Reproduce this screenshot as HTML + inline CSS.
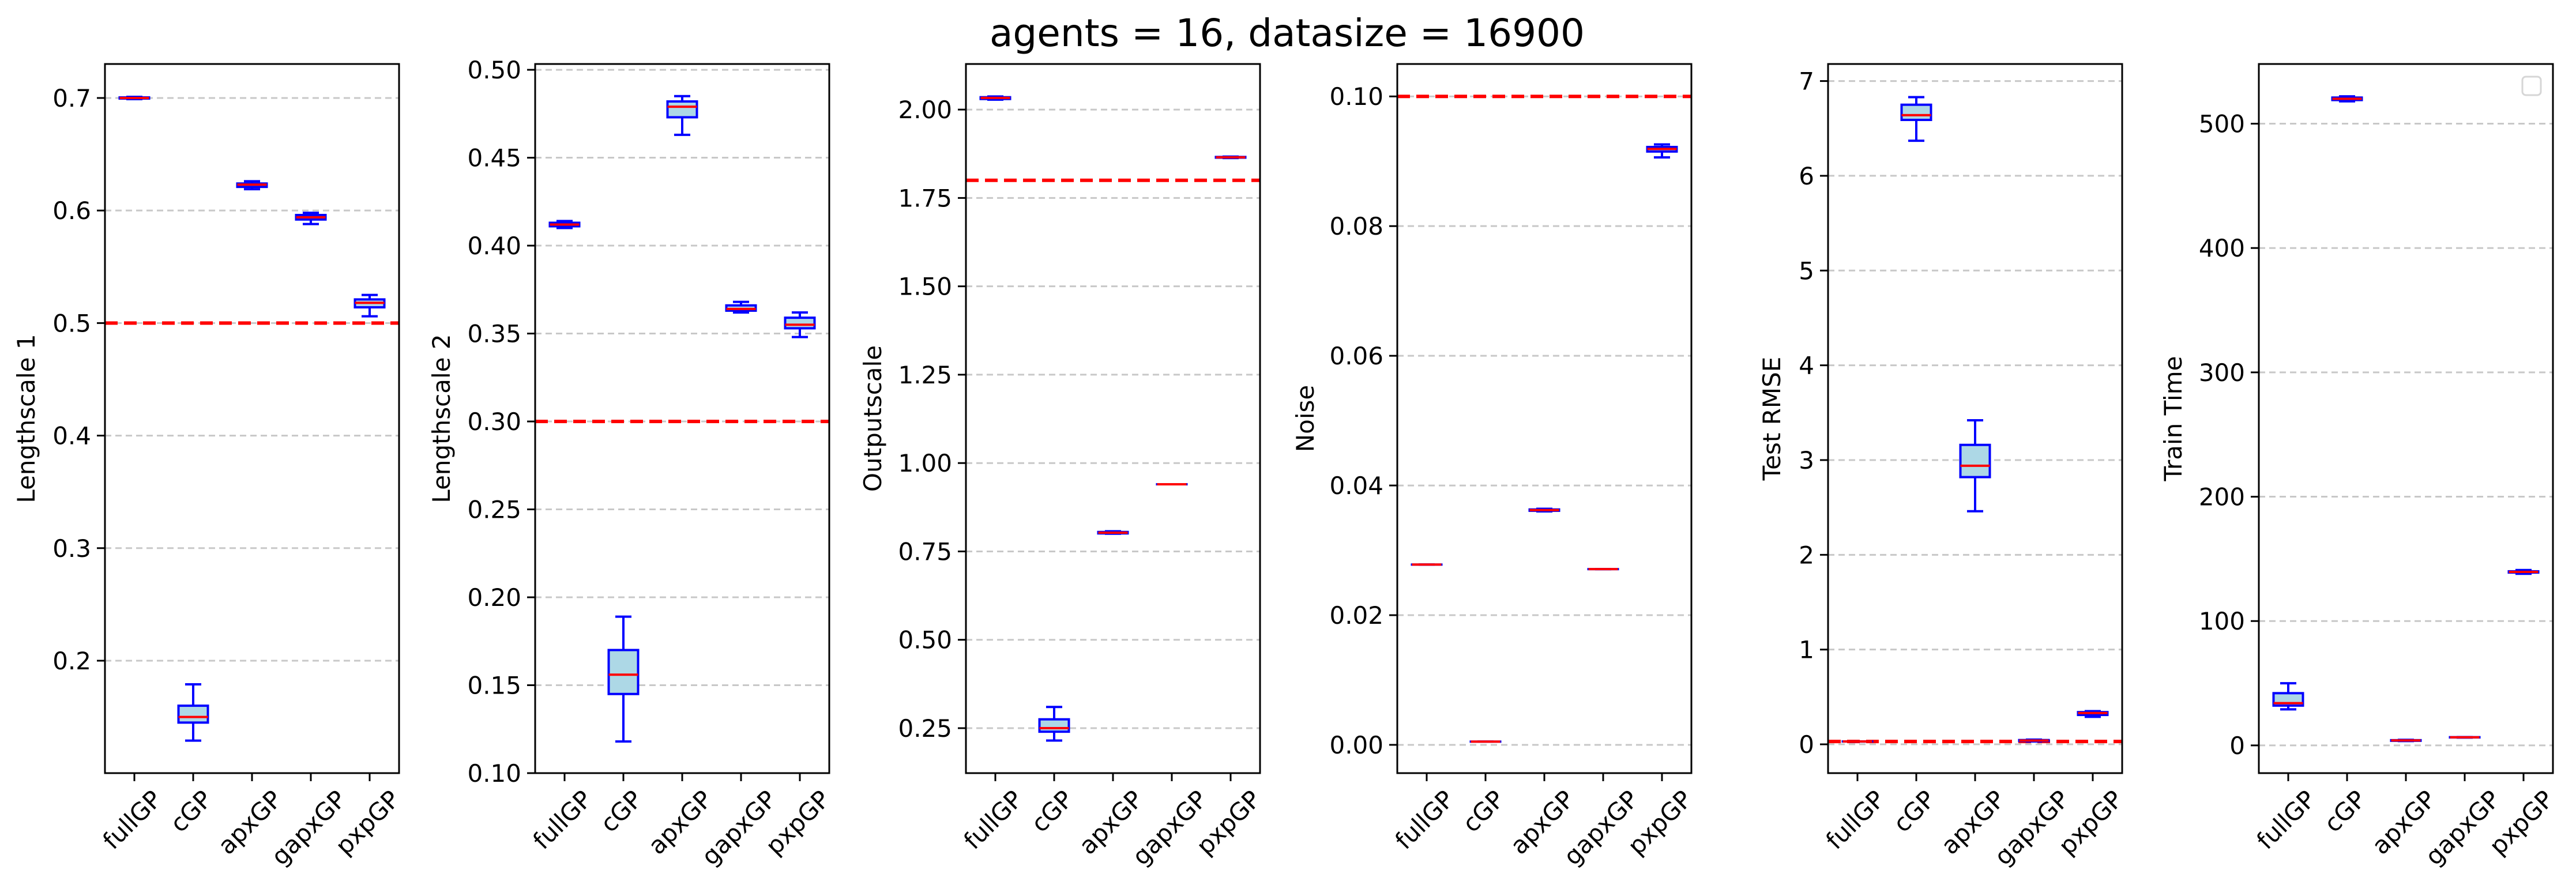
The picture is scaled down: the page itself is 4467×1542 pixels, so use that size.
<!DOCTYPE html>
<html><head><meta charset="utf-8">
<style>
html,body{margin:0;padding:0;background:#fff;}
svg{display:block;font-family:"DejaVu Sans","Liberation Sans",sans-serif;}
</style></head>
<body>
<svg id="fig" width="4467" height="1542" viewBox="0 0 4467 1542" xmlns="http://www.w3.org/2000/svg">
<rect width="4467" height="1542" fill="#fff"/>
<text x="2232" y="80" font-size="66" text-anchor="middle" fill="#000">agents = 16, datasize = 16900</text>
</svg>
<script>
const categories = ["fullGP","cGP","apxGP","gapxGP","pxpGP"];
const panelTitles = ["Lengthscale 1","Lengthscale 2","Outputscale","Noise","Test RMSE","Train Time"];
// each box: [whislo, q1, med, q3, whishi]
const lengthscale1 = [[0.699,0.6995,0.700,0.7005,0.701],[0.129,0.145,0.150,0.160,0.179],[0.619,0.621,0.623,0.624,0.626],[0.588,0.592,0.594,0.596,0.598],[0.506,0.514,0.518,0.521,0.525]];
const lengthscale2 = [[0.410,0.411,0.412,0.413,0.414],[0.118,0.145,0.156,0.170,0.189],[0.463,0.473,0.479,0.482,0.485],[0.362,0.363,0.364,0.366,0.368],[0.348,0.353,0.355,0.359,0.362]];
const outputscale = [[2.028,2.030,2.033,2.035,2.037],[0.215,0.240,0.250,0.275,0.310],[0.800,0.801,0.803,0.805,0.807],[0.940,0.940,0.940,0.940,0.940],[1.863,1.864,1.865,1.866,1.867]];
const noise = [[0.0278,0.0278,0.0278,0.0278,0.0278],[0.0005,0.0005,0.0005,0.0005,0.0005],[0.0360,0.0361,0.0362,0.0363,0.0364],[0.0271,0.0271,0.0271,0.0271,0.0271],[0.0906,0.0915,0.0919,0.0922,0.0926]];
const testRmse = [[0.030,0.030,0.030,0.030,0.030],[6.37,6.59,6.64,6.75,6.83],[2.46,2.82,2.94,3.16,3.42],[0.030,0.035,0.040,0.045,0.050],[0.29,0.31,0.33,0.34,0.35]];
const trainTime = [[29,32,34,42,50],[518,519,520,521,522],[3.5,3.7,4,4.2,4.5],[6.3,6.4,6.5,6.6,6.7],[138,139,139.5,140,141]];
const refValues = [0.5,0.3,1.8,0.1,0.03,null];
const yTicks1 = [0.2,0.3,0.4,0.5,0.6,0.7];
const yTickLabels1 = ["0.2","0.3","0.4","0.5","0.6","0.7"];
const yTicks2 = [0.10,0.15,0.20,0.25,0.30,0.35,0.40,0.45,0.50];
const yTickLabels2 = ["0.10","0.15","0.20","0.25","0.30","0.35","0.40","0.45","0.50"];
const yTicks3 = [0.25,0.5,0.75,1.0,1.25,1.5,1.75,2.0];
const yTickLabels3 = ["0.25","0.50","0.75","1.00","1.25","1.50","1.75","2.00"];
const yTicks4 = [0,0.02,0.04,0.06,0.08,0.10];
const yTickLabels4 = ["0.00","0.02","0.04","0.06","0.08","0.10"];
const yTicks5 = [0,1,2,3,4,5,6,7];
const yTickLabels5 = ["0","1","2","3","4","5","6","7"];
const yTicks6 = [0,100,200,300,400,500];
const yTickLabels6 = ["0","100","200","300","400","500"];
const yRanges = [[0.1001,0.7302],[0.1,0.5033],[0.1228,2.129],[-0.00436,0.105],[-0.304,7.18],[-22.3,548]];

const allData=[lengthscale1,lengthscale2,outputscale,noise,testRmse,trainTime];
const allTicks=[yTicks1,yTicks2,yTicks3,yTicks4,yTicks5,yTicks6];
const allTickLabels=[yTickLabels1,yTickLabels2,yTickLabels3,yTickLabels4,yTickLabels5,yTickLabels6];
const lefts=[182,928,1675,2423,3170,3917];
const labelX=[46,766,1514,2264,3073,3769];
const W=510, TOP=111, BOT=1341;
const NS="http://www.w3.org/2000/svg";
const svg=document.getElementById('fig');
function mk(tag,attrs,parent){const e=document.createElementNS(NS,tag);for(const k in attrs)e.setAttribute(k,attrs[k]);(parent||svg).appendChild(e);return e;}

for(let p=0;p<6;p++){
  const L=lefts[p], R=L+W;
  const [y0,y1]=yRanges[p];
  const ys=v=>BOT-(v-y0)/(y1-y0)*(BOT-TOP);
  const xs=i=>L+(i+0.5)*W/categories.length;
  const g=mk('g',{});
  
  
  allTicks[p].forEach((t,i)=>{
    const y=ys(t);
    const gl=mk('line',{x1:L,x2:R,y1:y,y2:y,stroke:'#c8c8c8','stroke-width':3,'stroke-dasharray':'11 7'},g);
    
    
    mk('line',{x1:L-14,x2:L,y1:y,y2:y,stroke:'#000','stroke-width':3},g);
    const tl=mk('text',{x:L-24,y:y+15,'font-size':42,'text-anchor':'end',fill:'#000'},g);
    tl.textContent=allTickLabels[p][i];
    
    
  });
  if(refValues[p]!==null){
    const y=ys(refValues[p]);
    const rl=mk('line',{x1:L,x2:R,y1:y,y2:y,stroke:'#ff0000','stroke-width':6,'stroke-dasharray':'22 11'},g);
    
    
  }
  allData[p].forEach((b,i)=>{
    const cx=xs(i), bw=W/categories.length*0.5, cw=bw*0.55;
    const bg=mk('g',{},g);
    
    
    const [lo,q1,md,q3,hi]=b.map(ys);
    mk('line',{x1:cx,x2:cx,y1:q1,y2:lo,stroke:'#0000ff','stroke-width':4},bg);
    mk('line',{x1:cx,x2:cx,y1:q3,y2:hi,stroke:'#0000ff','stroke-width':4},bg);
    mk('line',{x1:cx-cw/2,x2:cx+cw/2,y1:lo,y2:lo,stroke:'#0000ff','stroke-width':4},bg);
    mk('line',{x1:cx-cw/2,x2:cx+cw/2,y1:hi,y2:hi,stroke:'#0000ff','stroke-width':4},bg);
    mk('rect',{x:cx-bw/2,y:q3,width:bw,height:Math.max(q1-q3,0.01),fill:'#add8e6',stroke:'#0000ff','stroke-width':4},bg);
    mk('line',{x1:cx-bw/2,x2:cx+bw/2,y1:md,y2:md,stroke:'#ff0000','stroke-width':4},bg);
    mk('line',{x1:cx,x2:cx,y1:BOT,y2:BOT+14,stroke:'#000','stroke-width':3},g);
    const xt=mk('text',{x:0,y:0,'font-size':42,'text-anchor':'middle',fill:'#000'},g);
    xt.textContent=categories[i];
    
    
    const w=xt.getComputedTextLength(), h=32;
    const half=(w+h)/(2*Math.SQRT2);
    const cy=BOT+14+12+half;
    xt.setAttribute('transform','translate('+(cx-4)+','+cy+') rotate(-45) translate(0,15)');
  });
  const fr=mk('rect',{x:L,y:TOP,width:W,height:BOT-TOP,fill:'none',stroke:'#000','stroke-width':3},g);
  
  
  const yl=mk('text',{x:0,y:0,'font-size':42,'text-anchor':'middle',fill:'#000',transform:'translate('+(labelX[p]+14)+','+((TOP+BOT)/2)+') rotate(-90)'},g);
  yl.textContent=panelTitles[p];
  
  
  if(p===5){
    const lg=mk('rect',{x:R-53,y:133,width:32,height:32,rx:6,fill:'#fff',stroke:'#d6d6d6','stroke-width':3},g);
    
    
  }
}
</script>
</body></html>
